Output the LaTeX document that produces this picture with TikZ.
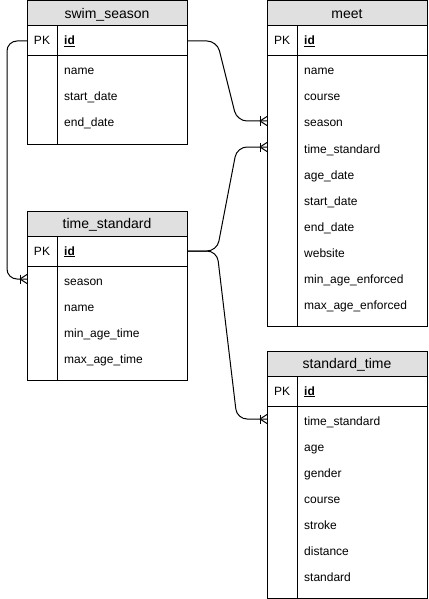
\documentclass[tikz,border=0pt]{standalone}
\usepackage{fontspec}
\setmainfont{Liberation Sans}
\usetikzlibrary{calc}
\definecolor{hdrgray}{RGB}{224,224,224}
\tikzset{
  erline/.style={line width=1pt, draw=black},
  hdr/.style={draw, line width=1pt, fill=hdrgray, minimum width=160pt, minimum height=25pt,
    inner sep=0pt, outer sep=0pt, anchor=north west, font=\fontsize{14}{16}\selectfont,
    text height=10pt, text depth=0pt},
  pkbox/.style={draw, line width=1pt, minimum width=160pt, minimum height=30pt,
    inner sep=0pt, outer sep=0pt, anchor=north west},
  bodybox/.style={draw, line width=1pt, minimum width=160pt, inner sep=0pt, outer sep=0pt, anchor=north west},
  rowbox/.style={minimum width=160pt, minimum height=26pt, inner sep=0pt, outer sep=0pt, anchor=north west},
  fldtxt/.style={anchor=base west, inner sep=0pt, font=\fontsize{12}{14}\selectfont},
  pktxt/.style={anchor=base, inner sep=0pt, font=\fontsize{12}{14}\selectfont},
  idtxt/.style={anchor=base west, inner sep=0pt, font=\fontsize{12}{14}\selectfont\bfseries},
  conn/.style={line width=1pt, draw=black, rounded corners=10pt},
  crowfoot/.pic={
    \draw[line width=1pt] (-7,-4.5) -- (-7,4.5);
    \draw[line width=1pt] (-7,0) -- (0,-4.5);
    \draw[line width=1pt] (-7,0) -- (0,4.5);
  }
}
\begin{document}
\begin{tikzpicture}[x=1pt, y=-1pt]
\useasboundingbox (0,0) rectangle (428,599);

% ---------- swim_season ----------
\node[hdr] (ss) at (27,1) {swim\_season};
\node[pkbox] (ss-id) at (27,26) {};
\node[pktxt] (ss-pk) at ([xshift=15pt,yshift=-19pt]ss-id.north west) {PK};
\node[idtxt] (ss-idt) at ([xshift=37pt,yshift=-19pt]ss-id.north west) {\underline{id}};
\node[bodybox, minimum height=88pt] (ss-body) at (27,56) {};
\draw[erline] ([xshift=30pt]ss-id.north west) -- ([xshift=30pt]ss-body.south west);
\foreach \n/\t [count=\i from 0] in {name/name, start/start\_date, end/end\_date}{
  \node[rowbox] (ss-\n) at (27,{56+26*\i}) {};
  \node[fldtxt] (ss-\n-t) at ([xshift=37pt,yshift=-19pt]ss-\n.north west) {\t};
}

% ---------- meet ----------
\node[hdr] (mt) at (267,1) {meet};
\node[pkbox] (mt-id) at (267,26) {};
\node[pktxt] (mt-pk) at ([xshift=15pt,yshift=-19pt]mt-id.north west) {PK};
\node[idtxt] (mt-idt) at ([xshift=37pt,yshift=-19pt]mt-id.north west) {\underline{id}};
\node[bodybox, minimum height=270pt] (mt-body) at (267,56) {};
\draw[erline] ([xshift=30pt]mt-id.north west) -- ([xshift=30pt]mt-body.south west);
\foreach \n/\t [count=\i from 0] in {name/name, course/course, season/season,
    timestd/time\_standard, agedate/age\_date, start/start\_date, end/end\_date,
    website/website, minage/min\_age\_enforced, maxage/max\_age\_enforced}{
  \node[rowbox] (mt-\n) at (267,{56+26*\i}) {};
  \node[fldtxt] (mt-\n-t) at ([xshift=37pt,yshift=-19pt]mt-\n.north west) {\t};
}

% ---------- time_standard ----------
\node[hdr] (ts) at (27,211) {time\_standard};
\node[pkbox] (ts-id) at (27,236) {};
\node[pktxt] (ts-pk) at ([xshift=15pt,yshift=-19pt]ts-id.north west) {PK};
\node[idtxt] (ts-idt) at ([xshift=37pt,yshift=-19pt]ts-id.north west) {\underline{id}};
\node[bodybox, minimum height=114pt] (ts-body) at (27,266) {};
\draw[erline] ([xshift=30pt]ts-id.north west) -- ([xshift=30pt]ts-body.south west);
\foreach \n/\t [count=\i from 0] in {season/season, name/name,
    minage/min\_age\_time, maxage/max\_age\_time}{
  \node[rowbox] (ts-\n) at (27,{266+26*\i}) {};
  \node[fldtxt] (ts-\n-t) at ([xshift=37pt,yshift=-19pt]ts-\n.north west) {\t};
}

% ---------- standard_time ----------
\node[hdr] (st) at (267,351) {standard\_time};
\node[pkbox] (st-id) at (267,376) {};
\node[pktxt] (st-pk) at ([xshift=15pt,yshift=-19pt]st-id.north west) {PK};
\node[idtxt] (st-idt) at ([xshift=37pt,yshift=-19pt]st-id.north west) {\underline{id}};
\node[bodybox, minimum height=192pt] (st-body) at (267,406) {};
\draw[erline] ([xshift=30pt]st-id.north west) -- ([xshift=30pt]st-body.south west);
\foreach \n/\t [count=\i from 0] in {timestd/time\_standard, age/age, gender/gender,
    course/course, stroke/stroke, distance/distance, standard/standard}{
  \node[rowbox] (st-\n) at (267,{406+26*\i}) {};
  \node[fldtxt] (st-\n-t) at ([xshift=37pt,yshift=-19pt]st-\n.north west) {\t};
}

% ---------- connectors ----------
\draw[conn] (ss-id.east) -- ++(30,0) -- ([xshift=-30pt]mt-season.west) -- (mt-season.west);
\draw[conn] (ts-id.east) -- ++(30,0) -- ([xshift=-30pt]mt-timestd.west) -- (mt-timestd.west);
\draw[conn] (ts-id.east) -- ++(30,0) -- ([xshift=-30pt]st-timestd.west) -- (st-timestd.west);
\draw[conn] (ss-id.west) -- ++(-20,0) |- (ts-season.west);

\pic at (mt-season.west) {crowfoot};
\pic at (mt-timestd.west) {crowfoot};
\pic at (st-timestd.west) {crowfoot};
\pic at (ts-season.west) {crowfoot};
\end{tikzpicture}
\end{document}
